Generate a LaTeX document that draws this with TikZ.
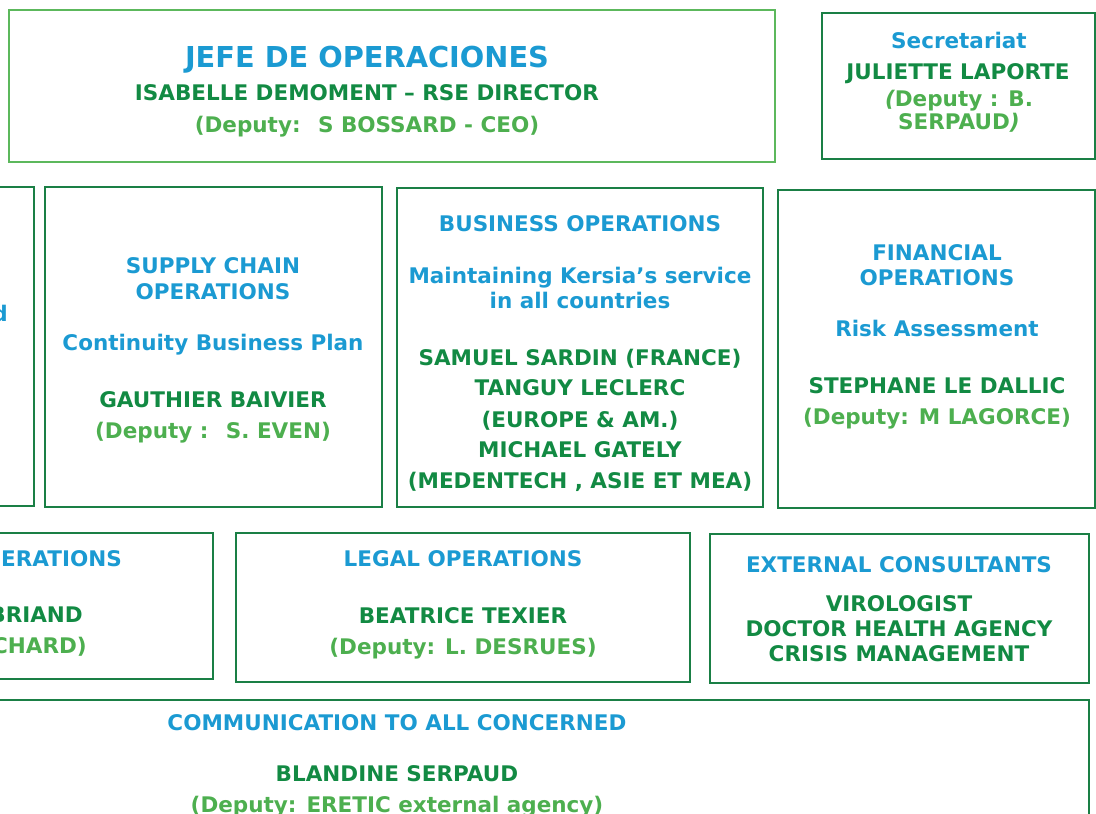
\documentclass[tikz,border=0pt]{standalone}
\usepackage{fontspec}
\setmainfont{DejaVu Sans}
\definecolor{tblue}{HTML}{1B9AD2}
\definecolor{dgreen}{HTML}{128A43}
\definecolor{lgreen}{HTML}{4DAF4F}
\definecolor{bord}{HTML}{1A7F45}
\definecolor{bordl}{HTML}{5CB85C}
\begin{document}
\begin{tikzpicture}[x=1pt,y=-1pt,
  box/.style={draw=bord,line width=1.6pt,anchor=north west,inner sep=0pt,outer sep=0pt},
  txt/.style={anchor=base,inner sep=0pt,font=\bfseries\fontsize{21.5}{26}\selectfont},
  hb/.style={txt,text=tblue},
  hn/.style={txt,text=dgreen},
  hd/.style={txt,text=lgreen}]
\useasboundingbox (0,0) rectangle (1096,814);
\clip (0,0) rectangle (1096,814);
% boxes
\node[box,draw=bordl,minimum width=766,minimum height=152] (top) at (9,10) {};
\node[box,minimum width=273,minimum height=146] (sec) at (822,13) {};
\node[box,minimum width=134,minimum height=319] (left2) at (-100,187) {};
\node[box,minimum width=337,minimum height=320] (supply) at (45,187) {};
\node[box,minimum width=366,minimum height=319] (business) at (397,188) {};
\node[box,minimum width=317,minimum height=318] (financial) at (778,190) {};
\node[box,minimum width=313,minimum height=146] (left3) at (-100,533) {};
\node[box,minimum width=454,minimum height=149] (legal) at (236,533) {};
\node[box,minimum width=379,minimum height=149] (external) at (710,534) {};
\node[box,minimum width=1099,minimum height=200] (comm) at (-10,700) {};
% top box
\node[hb,font=\bfseries\fontsize{28.8}{34}\selectfont] (t1) at (367,67) {JEFE DE OPERACIONES};
\node[hn] (t2) at (367,100) {ISABELLE DEMOMENT – RSE DIRECTOR};
\node[hd] (t3) at (367,132) {(Deputy:~ S BOSSARD - CEO)};
% secretariat
\node[hb] (s1) at (959,48) {Secretariat};
\node[hn] (s2) at (958,79) {JULIETTE LAPORTE};
\node[hd] (s3) at (959,106) {{\itshape(}Deputy : B.};
\node[hd] (s4) at (959,129) {SERPAUD{\itshape)}};
% left fragment row 2
\node[hb,anchor=base east] (lf) at (8,321) {d};
% supply chain
\node[hb] (c1) at (213,273) {SUPPLY CHAIN};
\node[hb] (c2) at (213,299) {OPERATIONS};
\node[hb] (c3) at (213,350) {Continuity Business Plan};
\node[hn] (c4) at (213,407) {GAUTHIER BAIVIER};
\node[hd] (c5) at (213,438) {(Deputy :~ S. EVEN)};
% business
\node[hb] (b1) at (580,231) {BUSINESS OPERATIONS};
\node[hb] (b2) at (580,283) {Maintaining Kersia’s service};
\node[hb] (b3) at (580,308) {in all countries};
\node[hn] (b4) at (580,365) {SAMUEL SARDIN (FRANCE)};
\node[hn] (b5) at (580,395) {TANGUY LECLERC};
\node[hn] (b6) at (580,427) {(EUROPE \& AM.)};
\node[hn] (b7) at (580,457) {MICHAEL GATELY};
\node[hn] (b8) at (580,488) {(MEDENTECH , ASIE ET MEA)};
% financial
\node[hb] (f1) at (937,260) {FINANCIAL};
\node[hb] (f2) at (937,285) {OPERATIONS};
\node[hb] (f3) at (937,336) {Risk Assessment};
\node[hn] (f4) at (937,393) {STEPHANE LE DALLIC};
\node[hd] (f5) at (937,424) {(Deputy: M LAGORCE)};
% left fragment row 3
\node[hb,anchor=base east] (r1) at (122,566) {ERATIONS};
\node[hn,anchor=base east] (r2) at (83,622) {BRIAND};
\node[hd,anchor=base east] (r3) at (87,653) {CHARD)};
% legal
\node[hb] (g1) at (463,566) {LEGAL OPERATIONS};
\node[hn] (g2) at (463,623) {BEATRICE TEXIER};
\node[hd] (g3) at (463,654) {(Deputy: L. DESRUES)};
% external
\node[hb] (e1) at (899,572) {EXTERNAL CONSULTANTS};
\node[hn] (e2) at (899,611) {VIROLOGIST};
\node[hn] (e3) at (899,636) {DOCTOR HEALTH AGENCY};
\node[hn] (e4) at (899,661) {CRISIS MANAGEMENT};
% communication
\node[hb] (m1) at (397,730) {COMMUNICATION TO ALL CONCERNED};
\node[hn] (m2) at (397,781) {BLANDINE SERPAUD};
\node[hd] (m3) at (397,812) {(Deputy: ERETIC external agency)};
\end{tikzpicture}
\end{document}
